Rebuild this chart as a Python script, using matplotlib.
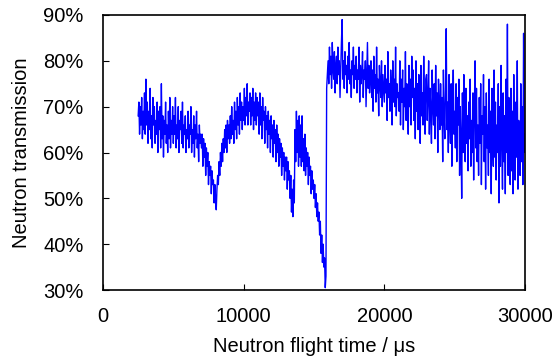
import numpy as np
import matplotlib
matplotlib.use("Agg")
import matplotlib.pyplot as plt
from matplotlib.ticker import FuncFormatter

plt.rcParams['font.family'] = ['Liberation Sans', 'DejaVu Sans']

# flight time in microseconds, one reading every 50 us from 2500 to 30000
t_start = 2500
t_step = 50

# transmission in percent (10 readings = 500 us per line)
transmission = [
    68, 71, 64, 70, 66, 72, 63, 69, 65, 73,
    64, 76, 66, 71, 62, 69, 65, 74, 63, 68,
    61, 72, 66, 70, 62, 67, 64, 71, 60, 69,
    65, 70, 61, 75, 63, 68, 59, 67, 64, 71,
    62, 66, 60, 69, 63, 72, 61, 67, 64, 70,
    62, 68, 64, 72, 61, 66, 63, 70, 60, 67,
    65, 69, 62, 71, 61, 66, 64, 68, 60, 65,
    63, 69, 61, 66, 64, 70, 60, 65, 62, 68,
    59, 66, 63, 69, 61, 64, 58, 66, 62, 64,
    61, 64, 57, 63, 59, 62, 55, 61, 57, 60,
    53, 58, 55, 57, 51, 56, 53, 54, 49, 53,
    50, 47.5, 52, 55, 53, 58, 55, 60, 57, 62,
    58, 63, 60, 65, 61, 66, 60, 67, 63, 66,
    62, 68, 63, 70, 64, 67, 62, 71, 65, 69,
    63, 72, 66, 70, 64, 73, 67, 71, 65, 70,
    67, 74, 66, 72, 68, 75, 66, 71, 69, 73,
    66, 72, 68, 74, 65, 71, 67, 73, 66, 72,
    68, 71, 64, 73, 66, 70, 63, 72, 67, 69,
    62, 70, 65, 68, 61, 69, 64, 67, 60, 68,
    63, 66, 59, 67, 62, 65, 58, 66, 60, 64,
    57, 63, 59, 62, 55, 61, 57, 60, 54, 59,
    56, 59, 52, 58, 54, 56, 50, 55, 47, 52,
    46, 54, 49, 65, 58, 69, 60, 67, 57, 68,
    59, 66, 57, 68, 58, 63, 56, 64, 55, 61,
    57, 60, 53, 59, 55, 57, 51, 56, 52, 54,
    50, 53, 48, 51, 46, 49, 45, 47, 42, 45,
    38, 42, 36, 40, 35, 37, 30.5, 33, 74, 77,
    80, 75, 83, 77, 81, 74, 84, 78, 76, 82,
    73, 79, 81, 75, 83, 77, 80, 72, 78, 84,
    89, 76, 80, 74, 82, 77, 79, 73, 81, 76,
    84, 75, 78, 72, 80, 77, 83, 74, 79, 76,
    81, 73, 78, 76, 83, 71, 79, 75, 77, 82,
    72, 78, 76, 80, 70, 77, 84, 74, 79, 73,
    76, 80, 72, 78, 69, 81, 74, 77, 71, 83,
    73, 76, 68, 79, 75, 72, 80, 70, 77, 74,
    71, 79, 73, 76, 67, 82, 72, 75, 69, 78,
    74, 66, 80, 71, 76, 70, 83, 68, 75, 72,
    73, 69, 80, 66, 76, 71, 78, 65, 74, 70,
    82, 67, 75, 72, 64, 79, 70, 76, 66, 81,
    72, 78, 67, 74, 63, 80, 69, 75, 65, 77,
    71, 62, 79, 68, 73, 66, 81, 70, 64, 76,
    77, 67, 72, 80, 64, 74, 69, 62, 78, 70,
    66, 75, 63, 79, 68, 73, 60, 76, 71, 65,
    75, 66, 72, 58, 78, 68, 63, 74, 87, 65,
    71, 60, 77, 67, 62, 75, 57, 70, 78, 64,
    69, 61, 75, 58, 72, 66, 76, 55, 70, 63,
    50, 73, 60, 77, 65, 58, 74, 62, 68, 56,
    71, 63, 76, 57, 67, 60, 73, 54, 69, 80,
    61, 74, 58, 66, 55, 72, 62, 75, 53, 68,
    64, 77, 58, 70, 52, 73, 61, 66, 55, 76,
    60, 69, 51, 74, 63, 57, 78, 59, 71, 54,
    66, 60, 75, 49, 70, 57, 79, 62, 52, 73,
    58, 68, 51, 76, 60, 88, 55, 72, 61, 53,
    74, 56, 69, 51, 77, 62, 54, 71, 59, 80,
    52, 67, 63, 55, 75, 58, 70, 53, 86, 60,
    64,
]

flight_time = t_start + t_step * np.arange(len(transmission))

fig = plt.figure(figsize=(5.58, 3.63), dpi=100)
ax = fig.add_axes([103/558, 1 - 290/363, 422/558, 275/363])
ax.plot(flight_time, transmission, color='#0000ff', lw=1.0)

ax.set_xlim(0, 30000)
ax.set_ylim(30, 90)
ax.set_xticks([0, 10000, 20000, 30000])
ax.set_yticks(range(30, 91, 10))
ax.yaxis.set_major_formatter(FuncFormatter(lambda v, p: f"{v:.0f}%"))
ax.tick_params(direction='in', length=4, labelsize=14.5, top=False, right=False)
ax.tick_params(axis='x', pad=12)
ax.tick_params(axis='y', pad=14)
for s in ax.spines.values():
    s.set_linewidth(1.2)

ax.set_xlabel("Neutron flight time / μs", fontsize=14.5, labelpad=8)
ax.set_ylabel("Neutron transmission", fontsize=14.5, labelpad=9)

fig.savefig("out.png", dpi=100)
